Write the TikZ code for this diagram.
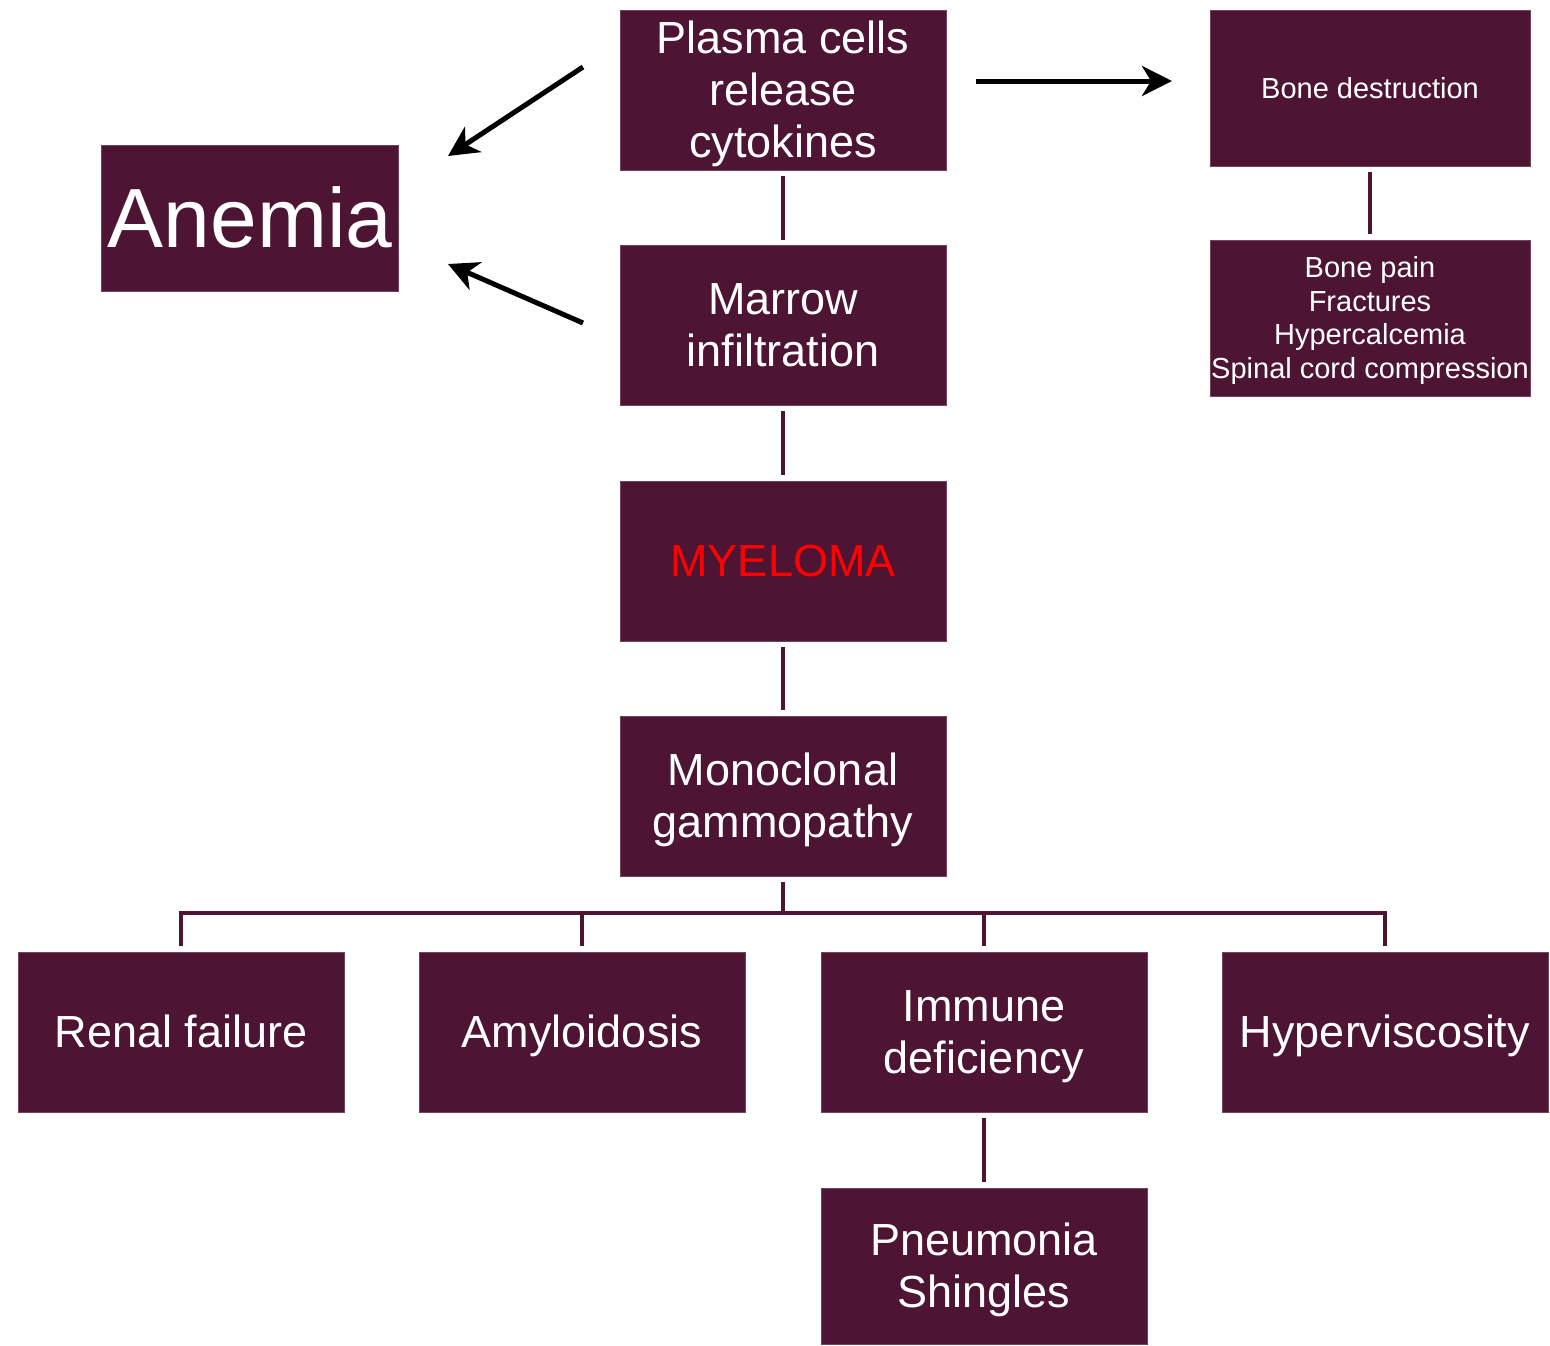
\documentclass[tikz,border=0pt]{standalone}
\usepackage{fontspec}
\setmainfont{Liberation Sans}
\usetikzlibrary{arrows.meta}
\definecolor{boxc}{HTML}{4D1533}
\newcommand{\pptstrut}{\rule[-0.212em]{0pt}{1.117em}}
\begin{document}
\begin{tikzpicture}[x=1pt,y=-1pt,
  bx/.style={rectangle,fill=boxc,draw=boxc!80!white,line width=0.8pt,inner sep=0pt,
    minimum width=326pt,minimum height=160pt,align=center,text=white,
    font=\fontsize{45}{52}\selectfont,
    execute at begin node=\pptstrut, execute at end node=\pptstrut},
  small/.style={font=\fontsize{29}{33.5}\selectfont},
  conn/.style={draw=boxc,line width=4pt},
  arr/.style={draw=black,line width=5pt,-{Stealth[length=30pt,width=30pt,inset=9pt]}}]
\useasboundingbox (0,0) rectangle (1550,1345);
% nodes
\node[bx] (plasma) at (783,90) {\pptstrut Plasma cells\\release\\cytokines};
\node[bx] (marrow) at (783,325) {\pptstrut Marrow\\infiltration};
\node[bx,text=red] (myeloma) at (783,561) {MYELOMA};
\node[bx] (mono) at (783,796) {\pptstrut Monoclonal\\gammopathy};
\node[bx,minimum width=297pt,minimum height=146pt,font=\fontsize{84}{90}\selectfont] (anemia) at (250,218) {Anemia};
\node[bx,small,minimum width=320pt,minimum height=156pt] (bonedes) at (1370,88) {Bone destruction};
\node[bx,small,minimum width=320pt,minimum height=156pt] (bonepain) at (1370,318) {\pptstrut Bone pain\\Fractures\\Hypercalcemia\\Spinal cord compression};
\node[bx] (renal) at (181,1032) {Renal failure};
\node[bx] (amyl) at (582,1032) {Amyloidosis};
\node[bx] (immune) at (984,1032) {\pptstrut Immune\\deficiency};
\node[bx] (hyper) at (1385,1032) {Hyperviscosity};
\node[bx,minimum height=156pt] (pneu) at (984,1266) {\pptstrut Pneumonia\\Shingles};
% vertical connectors
\draw[conn,shorten <=6pt,shorten >=5pt] (plasma.south) -- (marrow.north);
\draw[conn,shorten <=6pt,shorten >=6pt] (marrow.south) -- (myeloma.north);
\draw[conn,shorten <=6pt,shorten >=6pt] (myeloma.south) -- (mono.north);
\draw[conn,shorten <=6pt,shorten >=6pt] (bonedes.south) -- (bonepain.north);
\draw[conn,shorten <=6pt,shorten >=6pt] (immune.south) -- (pneu.north);
% bus
\coordinate (bus) at (783,913);
\draw[conn] ([yshift=-6pt]mono.south) -- (bus);
\draw[conn] (bus) -| ([yshift=6pt]renal.north);
\draw[conn] (bus) -| ([yshift=6pt]hyper.north);
\draw[conn] (amyl.north |- bus) -- ([yshift=6pt]amyl.north);
\draw[conn] (immune.north |- bus) -- ([yshift=6pt]immune.north);
% arrows
\coordinate (a1s) at (583,67);
\coordinate (a1e) at (448,156);
\coordinate (a2s) at (583,323);
\coordinate (a2e) at (448,264);
\coordinate (a3s) at (976,81);
\coordinate (a3e) at (1172,81);
\draw[arr] (a1s) -- (a1e);
\draw[arr] (a2s) -- (a2e);
\draw[arr] (a3s) -- (a3e);
\end{tikzpicture}
\end{document}
